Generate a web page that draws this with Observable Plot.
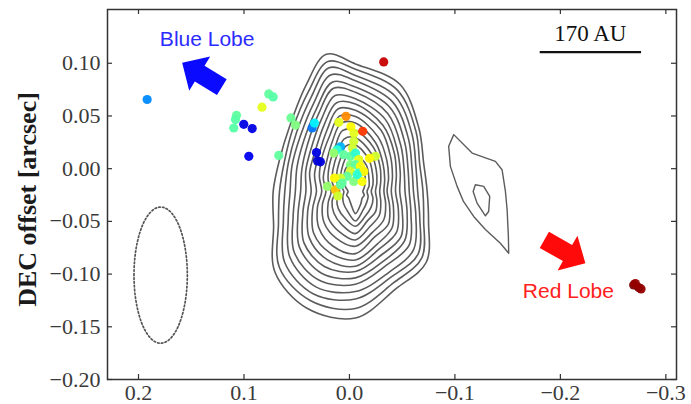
<!DOCTYPE html>
<html>
<head>
<meta charset="utf-8">
<script src="https://cdn.jsdelivr.net/npm/d3@7"></script>
<script src="https://cdn.jsdelivr.net/npm/@observablehq/plot@0.6"></script>
<style>
  html, body { margin: 0; padding: 0; background: #fff; }
</style>
</head>
<body>
<div id="chart"></div>
<script>
// ---- Data (arcsec offsets) ----
const xTicks = [0.2, 0.1, 0.0, -0.1, -0.2, -0.3];
const yTicks = [-0.20, -0.15, -0.10, -0.05, 0.00, 0.05, 0.10];

// Main continuum contours: centre of peak and radii (milli-arcsec) along rays (degrees, screen CCW)
const contourCenter = [-0.0057, -0.0216];
const rayAngles = [90, 102, 115, 135, 157.5, 180, -157.5, -135, -112.5, -90, -67.5, -45, -22.5, 0, 22.5, 45, 67.5];
const contourRadiiMas = [
  [121,133,111,88,78,78,84,108,120,120,100,95,75,68,70,85,110],
  [116,126,105,84,73,72,79,102,112,111,94,89,70,64,66,81,104],
  [110,120,99,79,69,67,74,95,105,102,88,84,66,59,62,76,98],
  [105,113,93,74,65,62,69,88,98,95,83,78,62,55,58,71,92],
  [99,106,87,69,60,57,64,82,91,88,76,72,57,51,54,66,86],
  [94,100,82,64,55,52,59,75,84,82,71,66,53,47,50,61,80],
  [88,93,76,59,51,47,54,69,77,76,65,61,48,42,46,56,74],
  [83,86,70,54,47,42,49,62,70,71,59,55,44,38,42,52,68],
  [77,80,64,49,42,37,44,56,63,65,54,49,39,34,38,47,63],
  [71,73,58,45,37,32,39,49,56,59,47,44,35,30,34,42,56],
  [65,66,52,39,33,28,34,42,48,52,42,38,31,27,30,37,50],
  [58,59,46,35,28,23,28,36,41,46,36,32,26,23,26,33,45],
  [51,51,40,30,24,19,24,29,34,40,30,27,22,19,22,28,39],
  [44,44,34,25,19,15,19,23,27,33,25,21,18,15,18,23,33],
  [35,35,28,20,15,11,13,16,20,28,19,15,13,11,14,18,27],
  [27,27,23,15,10,7,9,9,12,21,13,9,9,7,9,13,21]
];

// Secondary (western) contours
const westOuterX = [-0.0989,-0.1163,-0.1384,-0.1447,-0.1479,-0.1495,-0.1507,-0.1510,-0.1431,-0.1289,-0.1178,-0.1081,-0.1021,-0.0957,-0.0941];
const westOuterY = [0.0323,0.0148,0.0069,-0.0010,-0.0216,-0.0390,-0.0644,-0.0802,-0.0707,-0.0577,-0.0453,-0.0311,-0.0168,0.0022,0.0212];
const westInnerX = [-0.1194,-0.1273,-0.1330,-0.1320,-0.1289,-0.1210,-0.1173];
const westInnerY = [-0.0152,-0.0168,-0.0263,-0.0406,-0.0447,-0.0327,-0.0216];

// Maser spots: position and velocity colour index (0 = most blue, 1 = most red)
const spotX = [0.1918,0.0765,0.0723,0.0829,0.1071,0.1081,0.1097,0.1002,0.0922,0.0954,0.0670,0.0555,0.0512,0.0354,0.0332,0.0313,0.0303,0.0275,-0.0325,0.0033,0.0101,-0.0014,-0.0043,-0.0126,-0.0041,-0.0028,0.0085,0.0117,0.0149,0.0054,-0.0009,-0.0057,-0.0088,-0.0246,-0.0190,-0.0009,-0.0057,-0.0104,-0.0088,-0.0009,-0.0136,0.0022,0.0085,0.0069,-0.0041,-0.0120,0.0142,0.0209,0.0133,0.0109,-0.0073,0.0085,-0.2695,-0.2742,-0.2765,-0.2711];
const spotY = [0.0656,0.0709,0.0681,0.0583,0.0507,0.0466,0.0386,0.0421,0.0380,0.0117,0.0126,0.0481,0.0414,0.0386,0.0433,0.0153,0.0074,0.0065,0.1013,0.0497,0.0440,0.0397,0.0336,0.0355,0.0260,0.0196,0.0207,0.0179,0.0148,0.0133,0.0117,0.0148,0.0086,0.0117,0.0098,0.0038,0.0038,0.0022,-0.0042,-0.0026,-0.0026,-0.0073,-0.0089,-0.0137,-0.0121,-0.0121,-0.0089,-0.0168,-0.0200,-0.0259,-0.0057,-0.0152,-0.1103,-0.1128,-0.1141,-0.1090];
const spotV = [0.26,0.47,0.46,0.60,0.47,0.46,0.46,0.10,0.10,0.11,0.47,0.48,0.50,0.24,0.36,0.10,0.08,0.09,0.93,0.74,0.60,0.63,0.60,0.82,0.58,0.58,0.30,0.42,0.52,0.47,0.47,0.42,0.60,0.58,0.63,0.50,0.47,0.62,0.42,0.58,0.63,0.47,0.58,0.47,0.50,0.62,0.63,0.52,0.68,0.58,0.42,0.47,1.0,1.0,0.98,0.98];

// Beam: centre x, centre y, semi-major, semi-minor (arcsec)
const beam = [0.179, -0.101, 0.0646, 0.0253];

// Outflow arrows: tail x, tail y, tip x, tip y
const blueArrow = [0.1210, 0.0773, 0.1586, 0.1004];
const redArrow = [-0.1848, -0.0675, -0.2237, -0.0897];

// Annotations
const lobeLabels = ["Blue Lobe", "Red Lobe"];
const lobeLabelX = [0.1349, -0.2076];
const lobeLabelY = [0.1229, -0.1166];
const scaleBarText = "170 AU";
const scaleBarX = [-0.1804, -0.2765];
const scaleBarY = 0.1106;
const scaleTextPos = [-0.2284, 0.1277];
const yLabel = "DEC offset [arcsec]";

// ---- Build mark tables ----
const contourPts = contourRadiiMas.flatMap((row, k) => row.map((r, j) => {
  const t = rayAngles[j] * Math.PI / 180;
  return {k, x: contourCenter[0] - (r / 1000) * Math.cos(t), y: contourCenter[1] + (r / 1000) * Math.sin(t)};
}));
const westPts = [
  ...westOuterX.map((x, i) => ({k: "o", x, y: westOuterY[i]})),
  ...westInnerX.map((x, i) => ({k: "i", x, y: westInnerY[i]}))
];
const spots = spotX.map((x, i) => ({x, y: spotY[i], v: spotV[i]}));
const beamPts = d3.range(0, 360, 4).map(a => {
  const t = a * Math.PI / 180;
  return {x: beam[0] + beam[3] * Math.cos(t), y: beam[1] + beam[2] * Math.sin(t)};
});
function blockArrow([x0, y0, x1, y1]) {
  const dx = x1 - x0, dy = y1 - y0, L = Math.hypot(dx, dy);
  const ux = dx / L, uy = dy / L, nx = -uy, ny = ux;
  const hs = 0.0088, hh = 0.019, hl = 0.0195;
  const bx = x1 - ux * hl, by = y1 - uy * hl;
  return [[x0 + nx*hs, y0 + ny*hs], [bx + nx*hs, by + ny*hs], [bx + nx*hh, by + ny*hh], [x1, y1],
          [bx - nx*hh, by - ny*hh], [bx - nx*hs, by - ny*hs], [x0 - nx*hs, y0 - ny*hs]];
}

const plotH = 404 - 9 - 25, plotW = 691 - 107 - 15, tick = 5;
const serif = "'Liberation Serif', 'Times New Roman', serif";
const sans = "'Liberation Sans', Arial, sans-serif";

const chart = Plot.plot({
  width: 691, height: 404,
  marginLeft: 107, marginRight: 15, marginTop: 9, marginBottom: 25,
  x: {domain: [0.2294, -0.3101]},
  y: {domain: [-0.2, 0.151]},
  color: {type: "linear", domain: [0, 0.125, 0.375, 0.625, 0.875, 1],
          range: ["#00007f", "#0000ff", "#00ffff", "#ffff00", "#ff0000", "#7f0000"]},
  style: {fontFamily: serif, background: "#fff", color: "#3a3a3a"},
  marks: [
    Plot.line(contourPts, {x: "x", y: "y", z: "k", curve: "catmull-rom-closed", stroke: "#5c5c5c", strokeWidth: 1.6}),
    Plot.line(westPts, {x: "x", y: "y", z: "k", curve: "linear-closed", stroke: "#5c5c5c", strokeWidth: 1.4}),
    Plot.line(beamPts, {x: "x", y: "y", curve: "linear-closed", stroke: "#555", strokeWidth: 1.7, strokeDasharray: "1.6,2.2"}),
    Plot.line(blockArrow(blueArrow), {x: d => d[0], y: d => d[1], curve: "linear-closed", fill: "#0a0aff", stroke: "none"}),
    Plot.line(blockArrow(redArrow), {x: d => d[0], y: d => d[1], curve: "linear-closed", fill: "#ff0a0a", stroke: "none"}),
    Plot.dot(spots, {x: "x", y: "y", fill: "v", r: 4.6, fillOpacity: 0.95}),
    Plot.link([0], {x1: () => scaleBarX[0], x2: () => scaleBarX[1], y1: () => scaleBarY, y2: () => scaleBarY, stroke: "#111", strokeWidth: 2.2}),
    Plot.text([scaleBarText], {x: () => scaleTextPos[0], y: () => scaleTextPos[1], text: d => d, fontSize: 23, fontFamily: serif, fill: "#111", lineAnchor: "middle"}),
    Plot.text([0], {x: () => lobeLabelX[0], y: () => lobeLabelY[0], text: () => lobeLabels[0], fontSize: 21, fontFamily: sans, fill: "#2b2bff", lineAnchor: "middle"}),
    Plot.text([0], {x: () => lobeLabelX[1], y: () => lobeLabelY[1], text: () => lobeLabels[1], fontSize: 21, fontFamily: sans, fill: "#ff2020", lineAnchor: "middle"}),
    Plot.frame({stroke: "#333", strokeWidth: 1.5}),
    Plot.ruleX(xTicks, {x: d => d, insetTop: plotH - tick, stroke: "#333", strokeWidth: 1.2}),
    Plot.ruleX(xTicks, {x: d => d, insetBottom: plotH - tick, stroke: "#333", strokeWidth: 1.2}),
    Plot.ruleY(yTicks, {y: d => d, insetRight: plotW - tick, stroke: "#333", strokeWidth: 1.2}),
    Plot.ruleY(yTicks, {y: d => d, insetLeft: plotW - tick, stroke: "#333", strokeWidth: 1.2}),
    Plot.axisX(xTicks, {tickSize: 0, tickPadding: 5, tickFormat: d3.format(".1f"), label: null, fontSize: 22, fontFamily: serif}),
    Plot.axisY(yTicks, {tickSize: 0, tickPadding: 7, tickFormat: d3.format(".2f"), label: null, fontSize: 22, fontFamily: serif}),
    Plot.text([yLabel], {frameAnchor: "left", textAnchor: "middle", dx: -80, dy: 5, rotate: -90, text: d => d, fontSize: 26, fontWeight: "bold", fontFamily: serif, fill: "#1a1a1a", lineAnchor: "middle"})
  ]
});
document.getElementById("chart").appendChild(chart);
</script>
</body>
</html>
